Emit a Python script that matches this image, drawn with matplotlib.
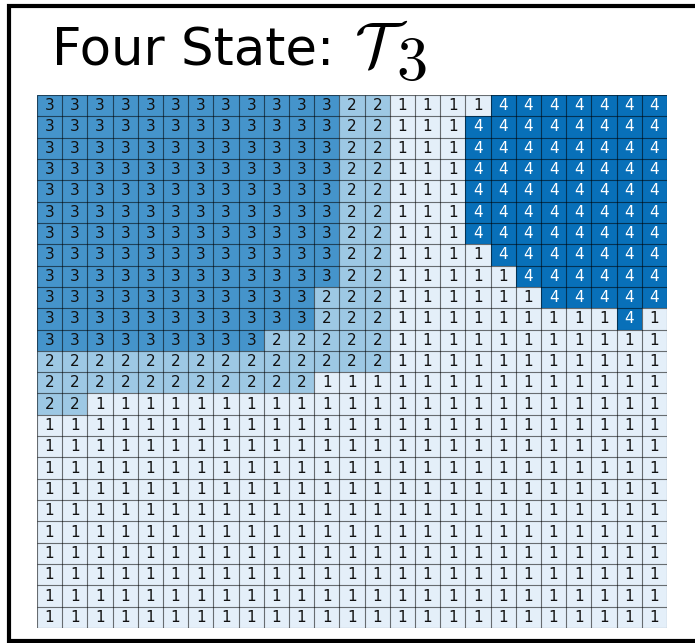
import numpy as np
import matplotlib
matplotlib.use("Agg")
from matplotlib import pyplot as plt
from matplotlib.colors import ListedColormap, BoundaryNorm
from matplotlib.lines import Line2D

plt.rcParams['mathtext.fontset'] = 'cm'

# state label of every cell, one string per row (top to bottom)
state_rows = [
    "3333333333332211114444444",
    "3333333333332211144444444",
    "3333333333332211144444444",
    "3333333333332211144444444",
    "3333333333332211144444444",
    "3333333333332211144444444",
    "3333333333332211144444444",
    "3333333333332211114444444",
    "3333333333332211111444444",
    "3333333333322211111144444",
    "3333333333322211111111141",
    "3333333332222211111111111",
    "2222222222222211111111111",
    "2222222222211111111111111",
    "2211111111111111111111111",
    "1111111111111111111111111",
    "1111111111111111111111111",
    "1111111111111111111111111",
    "1111111111111111111111111",
    "1111111111111111111111111",
    "1111111111111111111111111",
    "1111111111111111111111111",
    "1111111111111111111111111",
    "1111111111111111111111111",
    "1111111111111111111111111",
]
states = [1, 2, 3, 4]
state_colors = ['#e4eff9', '#9dc8e4', '#4594cb', '#0870b9']
text_colors = {1: '#111111', 2: '#111111', 3: '#111111', 4: 'white'}
title_text = "Four State:"
title_symbol = r"$\mathcal{T}$"
title_index = r"$3$"

grid = np.array([[int(c) for c in row] for row in state_rows])
nrows, ncols = grid.shape

W, H = 695, 643
fig = plt.figure(figsize=(W / 100, H / 100), dpi=100)
ax = fig.add_axes([37 / W, 1 - 628 / H, 630 / W, 533 / H])

cmap = ListedColormap(state_colors)
norm = BoundaryNorm(np.arange(0.5, len(states) + 1.5), cmap.N)
ax.pcolormesh(np.arange(ncols + 1), np.arange(nrows + 1), grid,
              cmap=cmap, norm=norm)

# cell borders, half-transparent so they darken with the fill
ax.vlines(np.arange(ncols + 1), 0, nrows, color='black', alpha=0.55, linewidth=0.8)
ax.hlines(np.arange(nrows + 1), 0, ncols, color='black', alpha=0.55, linewidth=0.8)

for r in range(nrows):
    for c in range(ncols):
        v = grid[r, c]
        ax.text(c + 0.5, r + 0.5, str(v), ha='center', va='center',
                fontsize=11, color=text_colors[v])

ax.set_xlim(0, ncols)
ax.set_ylim(nrows, 0)
ax.set_xticks([])
ax.set_yticks([])
for s in ax.spines.values():
    s.set_visible(False)

# title: text, calligraphic T and a big lowered index
fig.text(52 / W, 1 - 65 / H, title_text, fontsize=37, ha='left', va='baseline')
fig.text(354 / W, 1 - 65 / H, title_symbol, fontsize=45, ha='left', va='baseline')
fig.text(396 / W, 1 - 80 / H, title_index, fontsize=45, ha='left', va='baseline')

# black frame around the figure: top, left and bottom sides only
left, right, top, bottom = 9 / W, 1 - 0.5 / W, 1 - 6 / H, 2.5 / H
fig.add_artist(Line2D([right, left, left, right], [top, top, bottom, bottom],
                      transform=fig.transFigure, color='black', linewidth=3,
                      solid_capstyle='butt', solid_joinstyle='miter'))

fig.savefig("out.png", dpi=100)
